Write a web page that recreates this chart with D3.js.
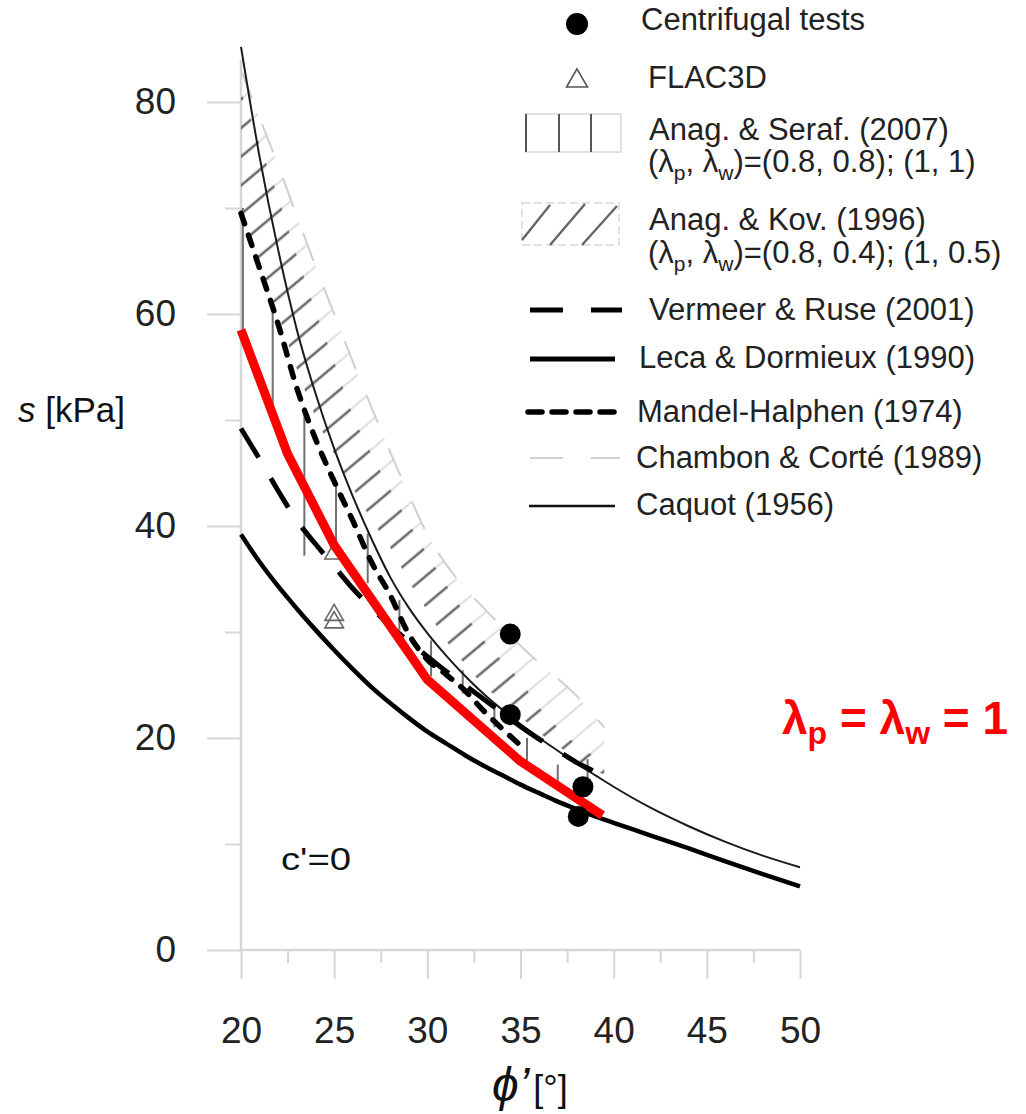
<!DOCTYPE html>
<html>
<head>
<meta charset="utf-8">
<script src="https://cdn.jsdelivr.net/npm/d3@7"></script>
<style>
  body { margin: 0; background: #fff; }
  svg text { font-family: "Liberation Sans", Arial, sans-serif; }
</style>
</head>
<body>
<svg id="chart" width="1026" height="1114"></svg>
<script>
// ---------- data ----------
const phiTicks = [20, 25, 30, 35, 40, 45, 50];
const phiMinorTicks = [22.5, 27.5, 32.5, 37.5, 42.5, 47.5];
const sTicks = [0, 20, 40, 60, 80];
const sMinorTicks = [10, 30, 50, 70];

const caquot = [[20,85.2],[21,74.8],[22,66],[23,58.5],[24,52.5],[25,47.3],[26,42.8],[27,38.8],[28,35.2],[29,32.3],[30,29.9],[31,27.8],[32,25.9],[33,24.2],[34,22.7],[35,21.3],[36,20],[37,18.8],[38,17.6],[39,16.5],[40,15.4],[42,13.4],[44,11.7],[46,10.2],[48,8.9],[50,7.8]];
const leca = [[20,39.2],[21,36.6],[22,34.3],[23,32.2],[24,30.2],[25,28.3],[26,26.5],[27,24.8],[28,23.3],[29,21.9],[30,20.6],[31,19.5],[32,18.4],[33,17.4],[34,16.5],[35,15.6],[36,14.8],[37,14.0],[38,13.3],[39,12.6],[40,12.0],[42,10.8],[44,9.6],[46,8.35],[48,7.15],[50,6.0]];
const mandel = [[20,69.5],[21,64.3],[22,59],[23,53],[24,48.2],[25,44.2],[26,40.5],[27,36.6],[28,33.5],[29,29.8],[30,27.4],[31,26],[32,24.5],[33,22.6],[34,20.9],[35,19.3]];
const vermeer = [[20,49.2],[21,46.3],[22,43.3],[23,40.5],[24,38.3],[25,36.2],[26,34.1],[27,32.3],[28,30.6],[29,29.1],[30,27.7],[31,26.3],[32,25],[33,23.7],[34,22.4],[35,21.1],[36,19.9],[37,18.8],[38,17.7],[39,16.8],[39.5,16.3]];
const redCurve = [[20,58.5],[22.5,46.8],[25,38.2],[30,25.5],[35,17.8],[39.4,12.7]];

// Anag. & Kov. (1996) hatched band
const akPhi  = [20,21,22,23,24,25,26,27,28,29,30,31,32,33,34,35,36,37,38,39,39.5];
const akLow  = [70,65,60,54.8,50.3,46.8,43.6,40.6,38,34.8,32,29.2,27,25,23.5,22,20.5,19.3,18,17,16.5];
const akMid  = [81,76,71,65.5,60.3,55.5,50.5,46.8,43.5,40.3,37.3,34.5,31.8,29.3,27.3,25.4,22.9,21,19.4,18.2,17.5];
const akHigh = [83,78.5,74,69.2,64.5,60,55.5,51.2,47,43,39.2,36.4,34.2,32.3,30.5,28.7,27.1,25.6,24,22,21];
// Chambon & Corté (1989)
const chambonPhi = akPhi;
const chambonS = akHigh;

// Anag. & Seraf. (2007) vertical hatching
const asPhi  = [20.1,21.7,23.4,25.1,26.8,28.5,30.2,31.9,33.6,35.35,37.0,38.6];
const asLow  = [58.5,51,37.2,37.3,34.6,30.2,25.8,24.2,21,17.6,15.9,14.5];
const asHigh = [70,61.3,51.2,44,39.3,33,29.2,26.4,23,20,17.5,18];

const centrifugal = [[34.45,29.8],[34.45,22.2],[38.35,15.4],[38.1,12.6]];
const flac3d = [[25,37.4],[25,31.6],[25,30.9]];

// ---------- drawing ----------
const svg = d3.select("#chart");
const x = d3.scaleLinear().domain([20, 50]).range([241, 800]);
const y = d3.scaleLinear().domain([0, 80]).range([950, 102]);
const AXIS = "#d6d6d6";
const FONT = "Liberation Sans, Arial, sans-serif";

// axes
svg.append("line").attr("x1", x(20)).attr("x2", x(20)).attr("y1", y(0)).attr("y2", y(84))
  .attr("stroke", AXIS).attr("stroke-width", 2.5);
svg.append("line").attr("x1", x(20)).attr("x2", x(50)).attr("y1", y(0)).attr("y2", y(0))
  .attr("stroke", AXIS).attr("stroke-width", 2.5);

function styleAxis(g) {
  g.select(".domain").remove();
  g.attr("font-family", FONT).attr("font-size", 37);
  g.selectAll(".tick line").attr("stroke", AXIS).attr("stroke-width", 2);
  g.selectAll(".tick text").attr("fill", "#222");
}
svg.append("g").attr("transform", `translate(${x(20)},0)`)
  .call(d3.axisLeft(y).tickValues(sTicks).tickSize(34).tickPadding(31).tickFormat(d3.format("d")))
  .call(styleAxis);
svg.append("g").attr("transform", `translate(${x(20)},0)`)
  .call(d3.axisLeft(y).tickValues(sMinorTicks).tickSize(16).tickFormat(""))
  .call(styleAxis);
svg.append("g").attr("transform", `translate(0,${y(0)})`)
  .call(d3.axisBottom(x).tickValues(phiTicks).tickSize(29).tickPadding(38).tickFormat(d3.format("d")))
  .call(styleAxis);
svg.append("g").attr("transform", `translate(0,${y(0)})`)
  .call(d3.axisBottom(x).tickValues(phiMinorTicks).tickSize(13).tickFormat(""))
  .call(styleAxis);

// axis titles
const yt = svg.append("text").attr("x", 18).attr("y", 422).attr("font-size", 35).attr("fill", "#111");
yt.append("tspan").attr("font-style", "italic").text("s");
yt.append("tspan").text(" [kPa]");
const xt = svg.append("text").attr("x", 492).attr("y", 1101).attr("fill", "#111")
  .attr("font-family", "Liberation Serif, Times New Roman, serif");
xt.append("tspan").attr("font-style", "italic").attr("font-size", 48).text("ϕ’");
xt.append("tspan").attr("font-size", 36).attr("dx", 4).text("[°]");

// hatch patterns
const defs = svg.append("defs");
function hatch(id, color, w) {
  const p = defs.append("pattern").attr("id", id).attr("patternUnits", "userSpaceOnUse")
    .attr("width", 22).attr("height", 22).attr("patternTransform", "rotate(50)");
  p.append("line").attr("x1", 11).attr("y1", -2).attr("x2", 11).attr("y2", 24)
    .attr("stroke", color).attr("stroke-width", w);
}
hatch("hatchDark", "#6a6a6a", 2.6);
hatch("hatchLight", "#e0e0e0", 2.2);

const akRows = akPhi.map((p, i) => ({ p, lo: akLow[i], mid: akMid[i], hi: akHigh[i] }));
svg.append("path").datum(akRows).attr("fill", "url(#hatchLight)")
  .attr("d", d3.area().x(d => x(d.p)).y0(d => y(d.mid)).y1(d => y(d.hi)).curve(d3.curveMonotoneX));
svg.append("path").datum(akRows).attr("fill", "url(#hatchDark)")
  .attr("d", d3.area().x(d => x(d.p)).y0(d => y(d.lo)).y1(d => y(d.mid)).curve(d3.curveMonotoneX));

// Anag & Seraf vertical lines
svg.append("g").selectAll("line").data(asPhi).join("line")
  .attr("x1", d => x(d)).attr("x2", d => x(d))
  .attr("y1", (d, i) => y(asLow[i])).attr("y2", (d, i) => y(asHigh[i]))
  .attr("stroke", "#707070").attr("stroke-width", 2);

const line = d3.line().x(d => x(d[0])).y(d => y(d[1])).curve(d3.curveMonotoneX);

// Chambon & Corté
svg.append("path").datum(chambonPhi.map((p, i) => [p, chambonS[i]]))
  .attr("fill", "none").attr("stroke", "#cfcfcf").attr("stroke-width", 2)
  .attr("stroke-dasharray", "30,28").attr("d", line);
// Caquot
svg.append("path").datum(caquot).attr("fill", "none").attr("stroke", "#1a1a1a")
  .attr("stroke-width", 2).attr("d", line);
// FLAC3D triangles
const tri = d3.symbol().type(d3.symbolTriangle).size(150);
svg.append("g").selectAll("path").data(flac3d).join("path")
  .attr("transform", d => `translate(${x(d[0])},${y(d[1])})`).attr("d", tri)
  .attr("fill", "none").attr("stroke", "#666").attr("stroke-width", 1.6);
// Mandel-Halphen
svg.append("path").datum(mandel).attr("fill", "none").attr("stroke", "#000")
  .attr("stroke-width", 5.5).attr("stroke-linecap", "round").attr("stroke-dasharray", "11,12").attr("d", line);
// Vermeer & Ruse
svg.append("path").datum(vermeer).attr("fill", "none").attr("stroke", "#000")
  .attr("stroke-width", 5).attr("stroke-dasharray", "34,24").attr("d", line);
// Leca & Dormieux
svg.append("path").datum(leca).attr("fill", "none").attr("stroke", "#000")
  .attr("stroke-width", 4.5).attr("d", line);
// red curve
svg.append("path").datum(redCurve).attr("fill", "none").attr("stroke", "#ff0000")
  .attr("stroke-width", 9).attr("stroke-linejoin", "round")
  .attr("d", d3.line().x(d => x(d[0])).y(d => y(d[1])));
// centrifugal tests
svg.append("g").selectAll("circle").data(centrifugal).join("circle")
  .attr("cx", d => x(d[0])).attr("cy", d => y(d[1])).attr("r", 10.5).attr("fill", "#000");

// annotations
svg.append("text").attr("x", 281).attr("y", 870).attr("font-size", 31).attr("fill", "#111")
  .attr("textLength", 70).attr("lengthAdjust", "spacingAndGlyphs").text("c'=0");
const rt = svg.append("text").attr("x", 782).attr("y", 734).attr("font-size", 46)
  .attr("font-weight", "bold").attr("fill", "#ff0000");
rt.append("tspan").text("λ");
rt.append("tspan").attr("font-size", 32).attr("dy", 10).text("p");
rt.append("tspan").attr("dy", -10).text(" = λ");
rt.append("tspan").attr("font-size", 32).attr("dy", 10).text("w");
rt.append("tspan").attr("dy", -10).text(" = 1");

// ---------- legend ----------
const lg = svg.append("g").attr("font-size", 31).attr("fill", "#222");
function ltext(xp, yp, str) { return lg.append("text").attr("x", xp).attr("y", yp).text(str); }
function lambdaLine(xp, yp, tail) {
  const t = lg.append("text").attr("x", xp).attr("y", yp);
  t.append("tspan").text("(λ");
  t.append("tspan").attr("font-size", 21).attr("dy", 8).text("p");
  t.append("tspan").attr("dy", -8).text(", λ");
  t.append("tspan").attr("font-size", 21).attr("dy", 8).text("w");
  t.append("tspan").attr("dy", -8).text(tail);
}
lg.append("circle").attr("cx", 577).attr("cy", 24).attr("r", 11).attr("fill", "#000");
ltext(641, 30, "Centrifugal tests");
lg.append("path").attr("transform", "translate(577,81)").attr("d", d3.symbol().type(d3.symbolTriangle).size(190))
  .attr("fill", "none").attr("stroke", "#555").attr("stroke-width", 1.6);
ltext(648, 88, "FLAC3D");
// A&S box
lg.append("rect").attr("x", 526).attr("y", 114).attr("width", 95).attr("height", 38)
  .attr("fill", "none").attr("stroke", "#d8d8d8").attr("stroke-width", 1.5);
[526, 559, 591].forEach(xx => lg.append("line").attr("x1", xx).attr("x2", xx).attr("y1", 114).attr("y2", 152)
  .attr("stroke", "#444").attr("stroke-width", 1.8));
ltext(649, 140, "Anag. & Seraf. (2007)");
lambdaLine(648, 172, ")=(0.8, 0.8); (1, 1)");
// A&K box
lg.append("rect").attr("x", 522).attr("y", 203).attr("width", 97).attr("height", 42)
  .attr("fill", "none").attr("stroke", "#d8d8d8").attr("stroke-width", 1.5).attr("stroke-dasharray", "8,4");
[[522, 240, 550, 205], [550, 245, 585, 204], [582, 245, 617, 206]].forEach(c =>
  lg.append("line").attr("x1", c[0]).attr("y1", c[1]).attr("x2", c[2]).attr("y2", c[3])
    .attr("stroke", "#666").attr("stroke-width", 2.4));
ltext(649, 230, "Anag. & Kov. (1996)");
lambdaLine(648, 263, ")=(0.8, 0.4); (1, 0.5)");
// line legends
lg.append("line").attr("x1", 530).attr("x2", 622).attr("y1", 310).attr("y2", 310)
  .attr("stroke", "#000").attr("stroke-width", 5).attr("stroke-dasharray", "33,28");
ltext(649, 320, "Vermeer & Ruse (2001)");
lg.append("line").attr("x1", 530).attr("x2", 615).attr("y1", 359).attr("y2", 359)
  .attr("stroke", "#000").attr("stroke-width", 5);
ltext(639, 368, "Leca & Dormieux (1990)");
lg.append("line").attr("x1", 528).attr("x2", 616).attr("y1", 412).attr("y2", 412)
  .attr("stroke", "#000").attr("stroke-width", 5.5).attr("stroke-linecap", "round").attr("stroke-dasharray", "14,10");
ltext(637, 422, "Mandel-Halphen (1974)");
lg.append("line").attr("x1", 530).attr("x2", 620).attr("y1", 458).attr("y2", 458)
  .attr("stroke", "#d0d0d0").attr("stroke-width", 2).attr("stroke-dasharray", "33,28");
ltext(636, 468, "Chambon & Corté (1989)");
lg.append("line").attr("x1", 529).attr("x2", 615).attr("y1", 506).attr("y2", 506)
  .attr("stroke", "#111").attr("stroke-width", 2.5);
ltext(636, 515, "Caquot (1956)");
</script>
</body>
</html>
